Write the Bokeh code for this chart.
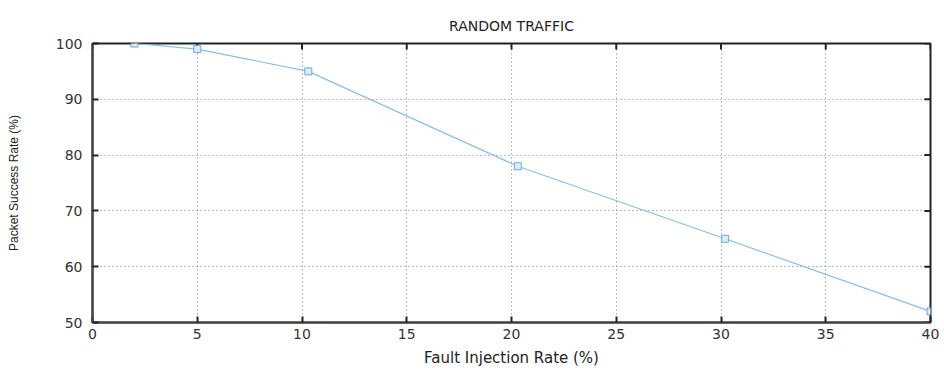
from bokeh.plotting import figure
from bokeh.models import Range1d, FixedTicker
from bokeh.embed import file_html
from bokeh.resources import INLINE

# Packet success rate under random traffic vs. injected fault rate
fault_rate = [2, 5, 10.3, 20.3, 30.2, 40]
success_rate = [100, 99, 95, 78, 65, 52]

x_ticks = [0, 5, 10, 15, 20, 25, 30, 35, 40]
y_ticks = [50, 60, 70, 80, 90, 100]

FONT = "DejaVu Sans"
X0, X1, Y0, Y1 = 0, 40, 50, 100

p = figure(width=944, height=371, output_backend="svg", toolbar_location=None,
           x_range=Range1d(X0, X1), y_range=Range1d(Y0, Y1),
           min_border_left=92, min_border_right=14,
           min_border_top=43, min_border_bottom=49)
p.background_fill_color = "white"
p.border_fill_color = "white"
p.outline_line_color = "#222222"
p.outline_line_width = 2

# axes: ticks point into the frame
for ax, ticks in ((p.xaxis[0], x_ticks), (p.yaxis[0], y_ticks)):
    ax.ticker = FixedTicker(ticks=ticks)
    ax.major_tick_in = 6
    ax.major_tick_out = 0
    ax.minor_tick_line_color = None
    ax.major_tick_line_color = "#222222"
    ax.major_tick_line_width = 2
    ax.axis_line_color = "#444444"
    ax.axis_line_width = 2
    ax.major_label_text_font = FONT
    ax.major_label_text_font_size = "14px"
    ax.major_label_text_color = "#333333"
    ax.axis_label_text_font_style = "normal"
    ax.axis_label_text_color = "#222222"

p.xaxis[0].major_label_standoff = 6
p.yaxis[0].major_label_standoff = 10
p.xaxis[0].axis_label = "Fault Injection Rate (%)"
p.xaxis[0].axis_label_text_font = FONT
p.xaxis[0].axis_label_text_font_size = "15px"
p.xaxis[0].axis_label_standoff = 7
p.yaxis[0].axis_label = "Packet Success Rate (%)"
p.yaxis[0].axis_label_text_font = "Liberation Sans"
p.yaxis[0].axis_label_text_font_size = "12px"
p.yaxis[0].axis_label_standoff = 32

# mirrored tick marks along the top and right edges of the frame
tick_dx = 0.29   # ~6 px in x data units
tick_dy = 1.08   # ~6 px in y data units
p.segment(x0=x_ticks, y0=[Y1] * len(x_ticks), x1=x_ticks, y1=[Y1 - tick_dy] * len(x_ticks),
          line_color="#222222", line_width=2)
p.segment(x0=[X1] * len(y_ticks), y0=y_ticks, x1=[X1 - tick_dx] * len(y_ticks), y1=y_ticks,
          line_color="#222222", line_width=2)

# dotted grid
p.xgrid.ticker = FixedTicker(ticks=x_ticks)
p.ygrid.ticker = FixedTicker(ticks=y_ticks)
for g in (p.xgrid[0], p.ygrid[0]):
    g.grid_line_color = "#777777"
    g.grid_line_dash = "1 3"
    g.grid_line_width = 1

p.title.text = "RANDOM TRAFFIC"
p.title.align = "center"
p.title.text_font = FONT
p.title.text_font_size = "14px"
p.title.text_font_style = "normal"
p.title.text_color = "#222222"
p.title.standoff = 20

p.line(fault_rate, success_rate, line_color="#86c0e6", line_width=1.2)
p.scatter(fault_rate, success_rate, marker="square", size=7,
          fill_color="#d8ecfa", line_color="#6aaade", line_width=1)

open("out.html", "w").write(file_html(p, INLINE))
